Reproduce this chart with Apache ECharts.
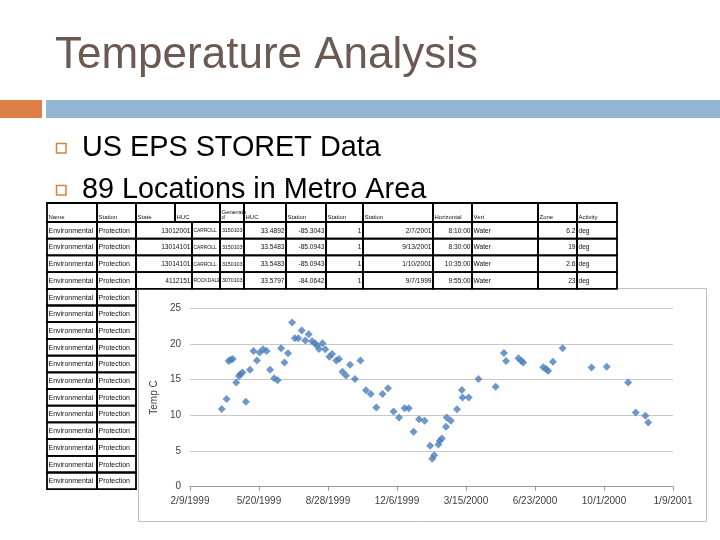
<!DOCTYPE html>
<html><head><meta charset="utf-8">
<script src="https://cdn.jsdelivr.net/npm/echarts@6/dist/echarts.min.js"></script>
<style>html,body{margin:0;padding:0;background:#fff}#c{width:720px;height:540px}</style>
</head><body><div id="c"></div>
<script>
// ---- data ----
const titleText = 'Temperature Analysis';
const bullets = ['US EPS STORET Data', '89 Locations in Metro Area'];

// Excel serial dates of the samples
const sampleSerial = [
  36246,36253,36256,36259,36262,36267,36271,36273,36276,36281,
  36287,36292,36297,36301,36306,36311,36316,36322,36327,36332,
  36337,36342,36348,36352,36357,36362,36367,36372,36377,36381,
  36384,36387,36392,36396,36402,36406,36412,36416,36421,36426,
  36432,36439,36447,36455,36462,36470,36479,36487,36495,36503,
  36511,36517,36524,36532,36540,36548,36551,36554,36560,36562,
  36565,36571,36572,36578,36587,36594,36595,36604,36618,36643,
  36655,36658,36676,36680,36683,36712,36716,36719,36726,36740,
  36782,36804,36835,36846,36860,36864
];
const tempC = [
  10.9,12.3,17.6,17.8,17.9,14.6,15.5,15.75,16.0,11.9,
  16.4,19.0,17.7,18.8,19.25,19.0,16.4,15.2,14.9,19.4,
  17.4,18.7,23.0,20.8,20.8,21.9,20.5,21.35,20.4,20.1,
  19.8,19.3,20.1,19.25,18.2,18.6,17.7,17.9,16.1,15.6,
  17.1,15.1,17.7,13.5,13.0,11.1,13.0,13.8,10.55,9.7,
  11.0,11.0,7.7,9.45,9.25,5.75,3.9,4.4,5.9,6.45,
  6.75,8.4,9.7,9.25,10.85,13.55,12.5,12.5,15.1,14.0,
  18.75,17.6,18.0,17.65,17.4,16.75,16.5,16.2,17.5,19.4,
  16.7,16.8,14.6,10.4,9.95,9.0
];
const yAxisName = 'Temp C';

const tableHeaders = ['Name','Station','State','HUC','Generate\nd','HUC','Station','Station','Station','Horizontal','Vert','Zone','Activity'];
const tableRows = [
  ['Environmental','Protection','13012001','CARROLL','3150103','33.4892','-85.3043','1','2/7/2001','8:10:00','Water','6.2','deg'],
  ['Environmental','Protection','13014101','CARROLL','3150103','33.5483','-85.0943','1','9/13/2001','8:30:00','Water','19','deg'],
  ['Environmental','Protection','13014101','CARROLL','3150103','33.5483','-85.0943','1','1/10/2001','10:35:00','Water','2.6','deg'],
  ['Environmental','Protection','4112151','ROCKDALE','3070103','33.5797','-84.0642','1','9/7/1999','9:55:00','Water','23','deg']
];
const extraRowCells = ['Environmental','Protection'];
const extraRowCount = 12;

// ---- layout ----
const headerCols = [47,97,136,175,220,244,286,326,363,433,472,538,577,617];
const dataCols   = [47,97,136,192,220,244,286,326,363,433,472,538,577,617];
const dataAlign  = ['left','left','right','left','right','right','right','right','right','right','left','right','left'];
const dataFontSize = [7,7,6.6,4.9,5.3,6.6,6.6,6.6,6.6,6.6,6.6,6.6,6.6];
const tableTop = 203, headerH = 19, rowH = 16.7;

function serialToLabel(v){
  const d = new Date(Date.UTC(1899,11,30) + v*86400000);
  return (d.getUTCMonth()+1) + '/' + d.getUTCDate() + '/' + d.getUTCFullYear();
}

const g = [];
// chart frame
g.push({type:'rect', z:-10, shape:{x:138.5,y:288.5,width:568,height:233}, style:{fill:'#fff', stroke:'#bfbfbf', lineWidth:1}});
// title
g.push({type:'text', x:55, y:56, style:{text:titleText, fill:'#6a5a52', font:'44px "Liberation Sans", Arial, sans-serif', textVerticalAlign:'middle'}});
// bands
g.push({type:'rect', shape:{x:0,y:100,width:42,height:18}, style:{fill:'#dd8047'}});
g.push({type:'rect', shape:{x:46,y:100,width:674,height:18}, style:{fill:'#94b6d2'}});
// bullets
bullets.forEach((b,i)=>{
  const cy = 148 + i*42;
  g.push({type:'rect', shape:{x:56.5,y:cy-4.5,width:9.5,height:9.5}, style:{fill:'none', stroke:'#d8823f', lineWidth:1.5}});
  g.push({type:'text', x:82, y:cy, style:{text:b, fill:'#000', font:'28.8px "Liberation Sans", Arial, sans-serif', textVerticalAlign:'middle'}});
});
// table
function cell(x0,x1,y0,y1,text,align,vAlign,fs){
  g.push({type:'rect', z:10, shape:{x:x0,y:y0,width:x1-x0,height:y1-y0}, style:{fill:'none', stroke:'#000', lineWidth:1.8}});
  if (text) {
    const tx = align==='right' ? x1-1.5 : x0+1.5;
    const ty = vAlign==='bottom' ? y1-1.5 : (y0+y1)/2+0.5;
    g.push({type:'text', z:11, x:tx, y:ty, style:{text:text, fill:'#111', font:fs+'px "Liberation Sans", Arial, sans-serif', textAlign:align, textVerticalAlign:vAlign, lineHeight:5.5}});
  }
}
tableHeaders.forEach((h,j)=>cell(headerCols[j],headerCols[j+1],tableTop,tableTop+headerH,h,'left','bottom',6));
tableRows.forEach((r,i)=>{
  const y0 = tableTop+headerH+i*rowH;
  r.forEach((v,j)=>cell(dataCols[j],dataCols[j+1],y0,y0+rowH,v,dataAlign[j],'middle',dataFontSize[j]));
});
for (let i=0;i<extraRowCount;i++){
  const y0 = tableTop+headerH+(tableRows.length+i)*rowH;
  extraRowCells.forEach((v,j)=>cell(dataCols[j],dataCols[j+1],y0,y0+rowH,v,'left','middle',dataFontSize[j]));
}

const chart = echarts.init(document.getElementById('c'), null, {renderer:'canvas'});
chart.setOption({
  backgroundColor:'#fff',
  animation:false,
  graphic:{elements:g},
  grid:{left:190, top:308.3, width:483, height:178.4, containLabel:false},
  xAxis:{
    type:'value', min:36200, max:36900, interval:100,
    axisLine:{show:true, lineStyle:{color:'#9a9a9a'}},
    axisTick:{show:true, length:4, lineStyle:{color:'#9a9a9a'}},
    splitLine:{show:false},
    axisLabel:{formatter:serialToLabel, color:'#404040', fontSize:10, margin:10, fontFamily:'"Liberation Sans", Arial, sans-serif'}
  },
  yAxis:{
    type:'value', min:0, max:25, interval:5,
    name:yAxisName, nameLocation:'middle', nameRotate:90, nameGap:24,
    nameTextStyle:{color:'#404040', fontSize:10, fontFamily:'"Liberation Sans", Arial, sans-serif'},
    axisLine:{show:false}, axisTick:{show:false},
    splitLine:{show:true, lineStyle:{color:'#c8c8c8'}},
    axisLabel:{color:'#404040', fontSize:10, margin:9, fontFamily:'"Liberation Sans", Arial, sans-serif'}
  },
  series:[{
    type:'scatter', symbol:'diamond', symbolSize:8,
    itemStyle:{color:'#4a7ebb'},
    data: sampleSerial.map((s,i)=>[s, tempC[i]])
  }]
});
</script></body></html>
